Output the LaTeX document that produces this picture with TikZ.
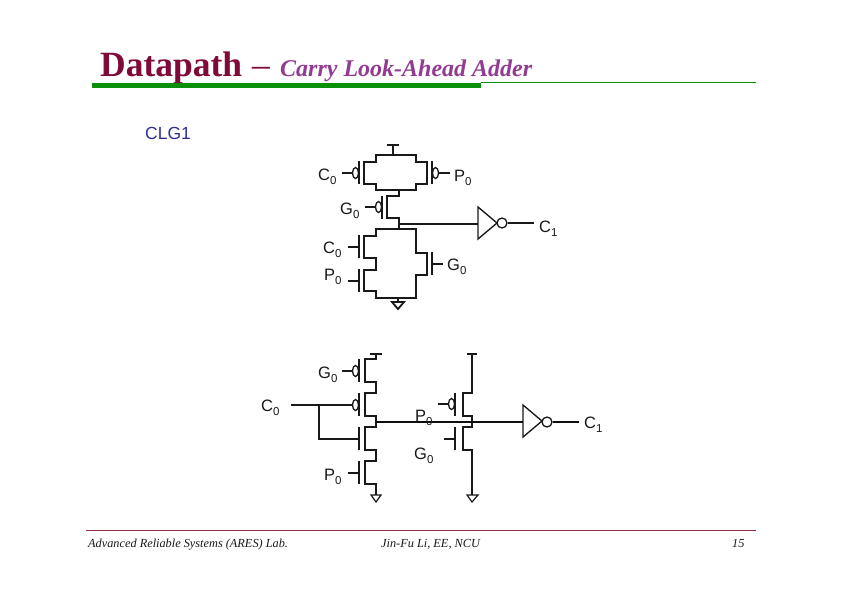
\documentclass[tikz,border=0pt]{standalone}
\usepackage{fontspec}
\setmainfont{Liberation Serif}
\setsansfont{Liberation Sans}
\usetikzlibrary{shapes.geometric}
\definecolor{titlered}{HTML}{7F0A3A}
\definecolor{titlepur}{HTML}{933A92}
\definecolor{rulegreen}{HTML}{0A900A}
\definecolor{blueclg}{HTML}{2E2E96}
\definecolor{footred}{HTML}{8E3040}
\newcommand{\sigl}[2]{#1\raisebox{-4pt}{\fontsize{11.5}{11.5}\selectfont #2}}
\tikzset{
  wire/.style={draw=black!90,line width=1.35pt,line join=miter},
  thick wire/.style={draw=black!95,line width=1.6pt},
  gatebar/.style={draw=black!90,line width=1.6pt},
  sig/.style={anchor=base west,inner sep=0pt,font=\sffamily\fontsize{16.5}{16.5}\selectfont,text=black!90},
  bub/.style={ellipse,draw=black!90,line width=1.3pt,inner sep=0pt,minimum width=6pt,minimum height=11pt},
  outbub/.style={circle,draw=black!90,line width=1.3pt,inner sep=0pt,minimum size=10pt},
  foot/.style={anchor=base west,inner sep=0pt,font=\rmfamily\itshape\fontsize{12.3}{12.3}\selectfont,text=black!90},
  gnd/.style={draw=black!90,line width=1.8pt}
}
\begin{document}
\begin{tikzpicture}[x=1pt,y=-1pt]
\useasboundingbox[fill=white] (0,0) rectangle (842,595);
% title
\node[anchor=base west,inner sep=0pt,text=titlered,font=\rmfamily\bfseries\fontsize{35.5}{35.5}\selectfont] (ttl) at (100,76) {Datapath};
\node[anchor=base west,inner sep=0pt,text=titlered,font=\rmfamily\fontsize{35.5}{35.5}\selectfont] (dash) at (252,76) {–};
\node[anchor=base west,inner sep=0pt,text=titlepur,font=\rmfamily\bfseries\itshape\fontsize{24}{24}\selectfont] (sub) at (280,76) {Carry Look-Ahead Adder};
\fill[rulegreen] (92,83) rectangle (481,88);
\draw[rulegreen,line width=0.9pt] (481,82.5) -- (756,82.5);
\node[anchor=base west,inner sep=0pt,text=blueclg,font=\sffamily\fontsize{17.5}{17.5}\selectfont] (clg) at (145,139.5) {CLG1};
% ---- top circuit
\draw[wire] (387,145) -- (399,145);
\draw[wire] (393,145) -- (393,155);
\draw[wire] (376,190) -- (376,184) -- (364,184) -- (364,162) -- (376,162) -- (376,155) -- (416,155) -- (416,162) -- (427,162) -- (427,184) -- (416,184) -- (416,190) -- cycle;
\draw[gatebar] (359,161) -- (359,184);
\draw[gatebar] (432,161) -- (432,184);
\node[bub] (bc) at (355.5,173) {};
\node[bub] (bp) at (435.5,173) {};
\draw[wire] (342,173) -- (bc.west);
\draw[wire] (bp.east) -- (450,173);
\draw[wire] (399,190) -- (399,196) -- (387,196) -- (387,218) -- (399,218) -- (399,229);
\draw[gatebar] (382,196) -- (382,219);
\node[bub] (bg) at (378.5,207) {};
\draw[wire] (365,207) -- (bg.west);
\draw[wire] (399,224) -- (478,224);
\draw[wire] (478,207) -- (478,239) -- (497,223) -- cycle;
\node[outbub] (ob1) at (502,223) {};
\draw[wire] (ob1.east) -- (534,223);
\draw[wire] (376,229) -- (416,229) -- (416,253) -- (427,253) -- (427,275) -- (416,275) -- (416,298) -- (376,298) -- (376,291) -- (364,291) -- (364,270) -- (376,270) -- (376,258) -- (364,258) -- (364,236) -- (376,236) -- cycle;
\draw[gatebar] (359,235) -- (359,258);
\draw[gatebar] (359,269) -- (359,292);
\draw[gatebar] (432,252) -- (432,275);
\draw[wire] (348,247) -- (359,247);
\draw[wire] (348,281) -- (359,281);
\draw[wire] (432,264) -- (443,264);
\draw[wire] (398,298) -- (398,302);
\draw[gnd] (392,302) -- (404,302) -- (398,309) -- cycle;
\node[sig] (t1) at (318,180) {\sigl{C}{0}};
\node[sig] (t2) at (454,181) {\sigl{P}{0}};
\node[sig] (t3) at (340,214) {\sigl{G}{0}};
\node[sig] (t4) at (539,232) {\sigl{C}{1}};
\node[sig] (t5) at (323,253) {\sigl{C}{0}};
\node[sig] (t6) at (324,280) {\sigl{P}{0}};
\node[sig] (t7) at (447,270) {\sigl{G}{0}};
% ---- bottom circuit
\draw[wire] (370,354) -- (382,354);
\draw[wire] (376,354) -- (376,359) -- (365,359) -- (365,382) -- (376,382) -- (376,393) -- (365,393) -- (365,416) -- (376,416) -- (376,427) -- (365,427) -- (365,450) -- (376,450) -- (376,461) -- (365,461) -- (365,484) -- (376,484) -- (376,495);
\draw[gatebar] (359,359) -- (359,382);
\draw[gatebar] (359,393) -- (359,416);
\draw[gatebar] (359,427) -- (359,450);
\draw[gatebar] (359,461) -- (359,484);
\node[bub] (bg2) at (355.5,371) {};
\node[bub] (bc2) at (355.5,405) {};
\draw[wire] (342,371) -- (bg2.west);
\draw[wire] (291,405) -- (bc2.west);
\draw[wire] (319,405) -- (319,439) -- (359,439);
\draw[wire] (348,473) -- (359,473);
\draw[gnd,line width=1.2pt] (371,495) -- (381,495) -- (376,502) -- cycle;
\draw[wire] (467,354) -- (477,354);
\draw[wire] (472,354) -- (472,393) -- (463,393) -- (463,416) -- (472,416) -- (472,427) -- (463,427) -- (463,450) -- (472,450) -- (472,495);
\draw[gatebar] (455,393) -- (455,416);
\draw[gatebar] (455,427) -- (455,450);
\node[bub] (bp2) at (451.5,404) {};
\draw[wire] (438,404) -- (bp2.west);
\draw[wire] (444,439) -- (455,439);
\draw[gnd,line width=1.2pt] (467,495) -- (478,495) -- (472,502) -- cycle;
\draw[thick wire] (376,422) -- (523,422);
\draw[wire] (523,405) -- (523,437) -- (542,421) -- cycle;
\node[outbub] (ob2) at (547,422) {};
\draw[thick wire] (ob2.east) -- (579,422);
\node[sig] (b1) at (318,378) {\sigl{G}{0}};
\node[sig] (b2) at (261,411) {\sigl{C}{0}};
\node[sig] (b3) at (415,421) {\sigl{P}{0}};
\node[sig] (b4) at (414,459) {\sigl{G}{0}};
\node[sig] (b5) at (324,480) {\sigl{P}{0}};
\node[sig] (b6) at (584,428) {\sigl{C}{1}};
% footer
\draw[footred,line width=0.8pt] (86,530) -- (756,530);
\node[foot] (f1) at (88,547) {Advanced Reliable Systems (ARES) Lab.};
\node[foot] (f2) at (381,547) {Jin-Fu Li, EE, NCU};
\node[foot] (f3) at (732,547) {15};
\end{tikzpicture}
\end{document}
